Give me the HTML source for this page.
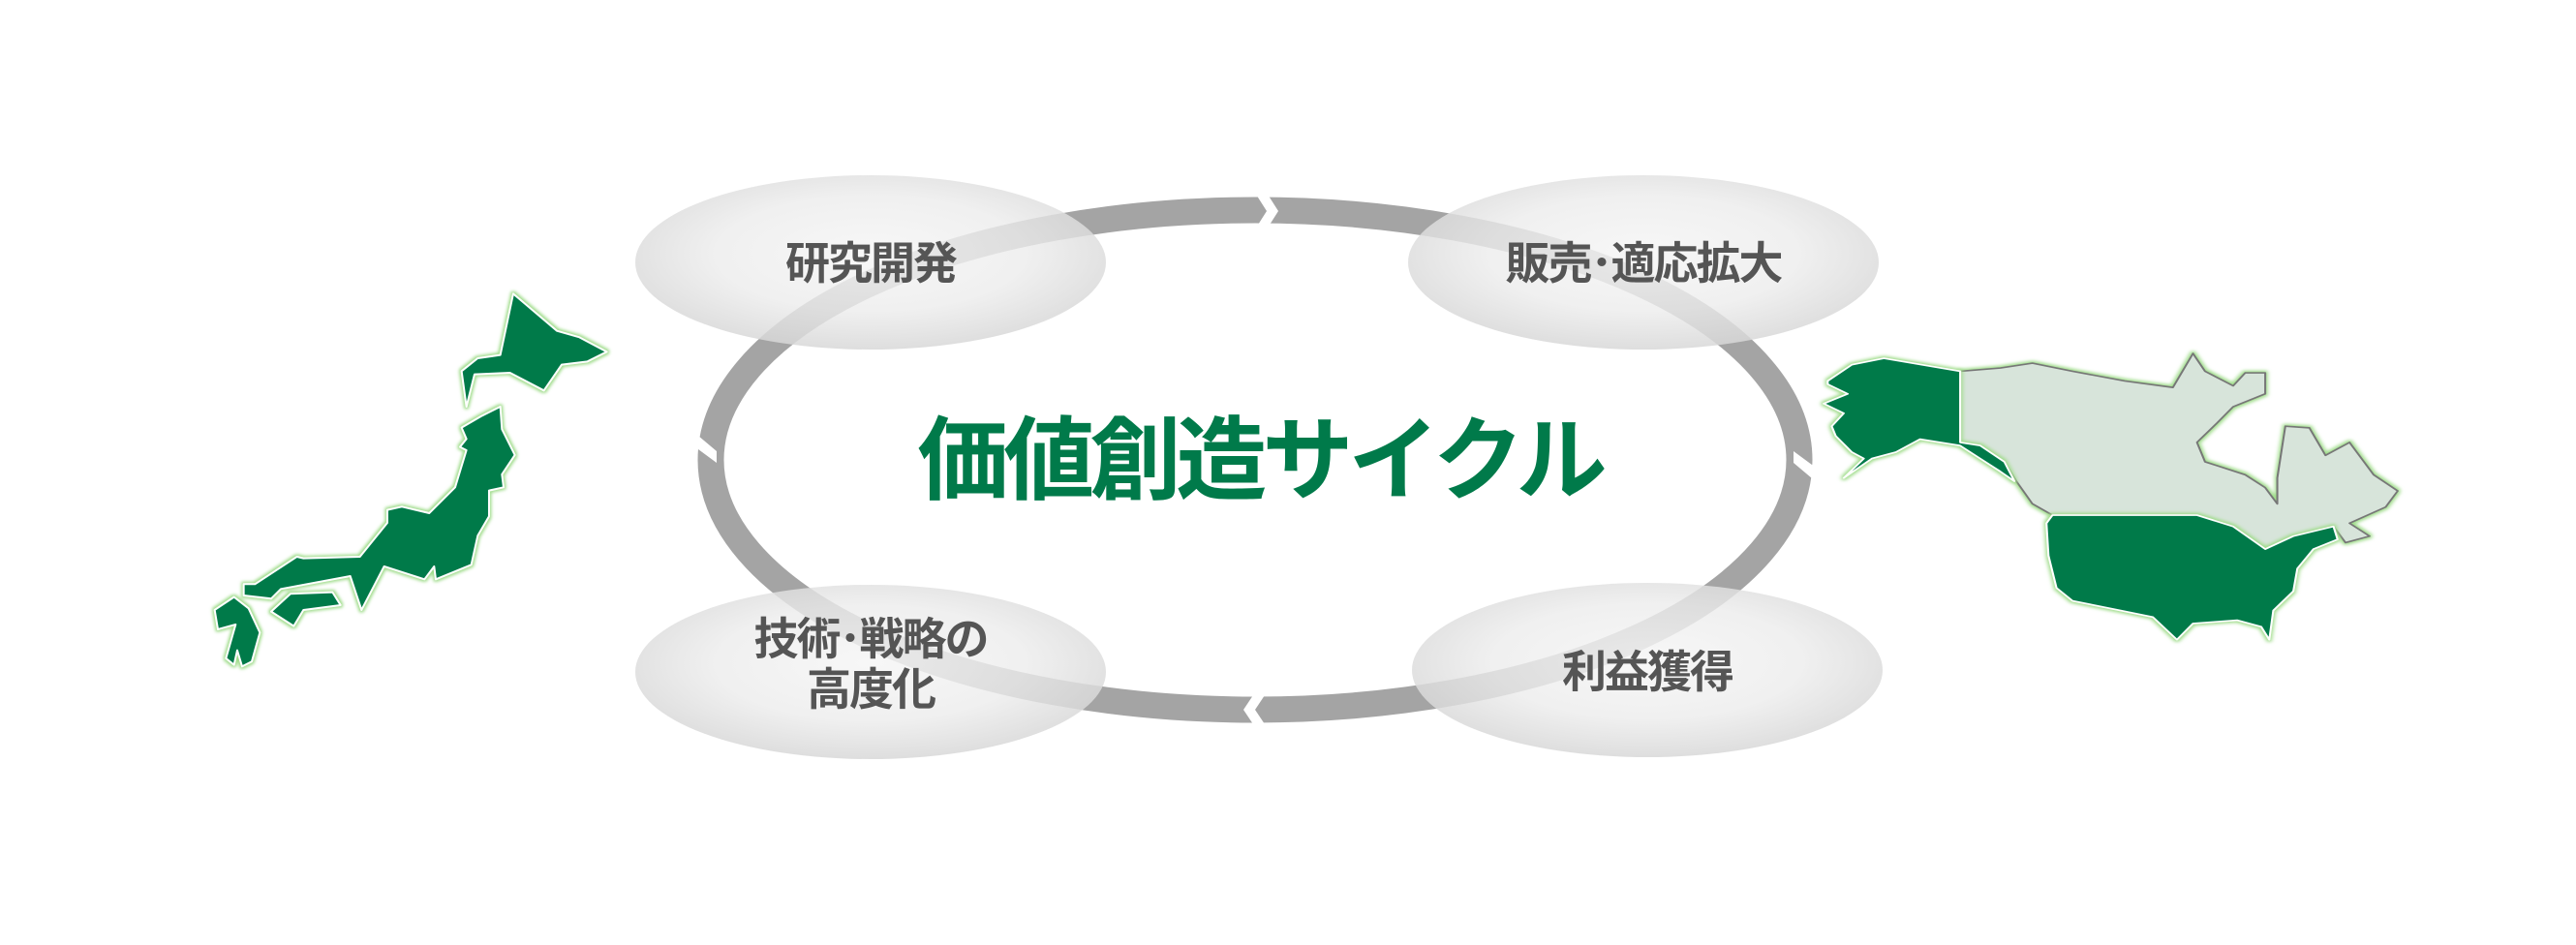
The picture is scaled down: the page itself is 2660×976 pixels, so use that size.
<!DOCTYPE html>
<html><head><meta charset="utf-8">
<style>
html,body{margin:0;padding:0;background:#fff;}
body{width:2660px;height:976px;overflow:hidden;position:relative;}
svg{position:absolute;left:0;top:0;}
</style></head><body>
<svg width="2660" height="976" viewBox="0 0 2660 976" xmlns="http://www.w3.org/2000/svg">
<defs>
<filter id="glow" x="-20%" y="-20%" width="140%" height="140%">
<feMorphology in="SourceAlpha" operator="dilate" radius="4" result="d"/>
<feGaussianBlur in="d" stdDeviation="5" result="b"/>
<feFlood flood-color="#9fdc8a"/>
<feComposite in2="b" operator="in" result="g"/>
<feMerge><feMergeNode in="g"/><feMergeNode in="SourceGraphic"/></feMerge>
</filter>
<radialGradient id="blob" cx="50%" cy="45%" r="55%">
<stop offset="0" stop-color="#f6f6f6" stop-opacity="0.85"/>
<stop offset="0.6" stop-color="#ececec" stop-opacity="0.8"/>
<stop offset="1" stop-color="#d8d8d8" stop-opacity="0.85"/>
</radialGradient>
</defs>

<ellipse cx="1296" cy="475" rx="562" ry="258" fill="none" stroke="#a4a4a4" stroke-width="27"/>
<polygon fill="#fff" points="1294,196 1306,196 1320,218 1306,240 1294,240 1308,218"/>
<polygon fill="#fff" points="1852,466 1852,478 1871,494 1890,478 1890,466 1871,480"/>
<polygon fill="#fff" points="1310,712 1298,712 1284,733 1298,754 1310,754 1296,733"/>
<polygon fill="#fff" points="702,478 702,466 721,450 740,466 740,478 721,464"/>

<ellipse cx="899" cy="271" rx="243" ry="90" fill="url(#blob)"/>
<ellipse cx="1697" cy="271" rx="243" ry="90" fill="url(#blob)"/>
<ellipse cx="899" cy="694" rx="243" ry="90" fill="url(#blob)"/>
<ellipse cx="1701" cy="692" rx="243" ry="90" fill="url(#blob)"/>

<g font-family="'Liberation Sans','Noto Sans CJK JP',sans-serif" font-weight="bold" fill="#555" font-size="46" text-anchor="middle" letter-spacing="-2">
<text x="899" y="288">研究開発</text>
<text x="1697" y="288">販売･適応拡大</text>
<text x="899" y="676">技術･戦略の</text>
<text x="899" y="728">高度化</text>
<text x="1701" y="710">利益獲得</text>
</g>
<text x="1301" y="508" text-anchor="middle" font-family="'Liberation Sans','Noto Sans CJK JP',sans-serif" font-weight="bold" font-size="94" fill="#007a4a" letter-spacing="-5">価値創造サイクル</text>

<g transform="translate(180,270) scale(0.3333)" filter="url(#glow)" fill="#007a4a" stroke="#fff" stroke-width="6" stroke-linejoin="round">
<polygon points="1050,100 1185,215 1255,235 1340,280 1280,310 1200,320 1145,400 1040,345 930,350 905,450 890,340 940,300 1010,290"/>
<polygon points="1010,450 1015,520 1055,600 1015,660 1020,700 975,710 975,790 940,850 920,940 810,985 805,945 775,985 650,945 580,1080 545,975 330,1015 300,1045 215,1035 215,1000 250,1000 380,915 400,920 575,915 660,810 660,770 705,760 790,780 870,700 905,585 885,575 905,550 890,515 950,480"/>
<polygon points="300,1085 360,1030 490,1025 515,1065 400,1080 370,1130"/>
<polygon points="125,1080 185,1040 230,1075 265,1150 240,1240 210,1255 195,1205 185,1250 160,1230 190,1125 135,1140"/>
</g>

<g transform="translate(1850,340) scale(0.4145,0.334)" stroke-linejoin="round">
<polygon filter="url(#glow)" fill="#d7e4da" stroke="#777" stroke-width="5" points="420,130 520,120 600,105 700,130 830,160 950,180 1000,75 1030,130 1100,175 1130,135 1180,135 1180,200 1100,240 1060,290 1010,350 1030,410 1130,450 1180,490 1210,540 1210,460 1230,300 1290,305 1330,390 1390,350 1450,450 1510,500 1480,550 1390,600 1440,640 1380,660 1350,610 1250,640 1180,680 1100,610 1010,575 650,575 600,540 560,470 530,410 480,370 420,350"/>
<g filter="url(#glow)" fill="#007a4a" stroke="#fff" stroke-width="5">
<polygon points="90,160 150,110 230,90 420,130 420,350 470,360 530,410 555,470 520,440 470,400 420,360 320,340 260,380 200,400 130,460 180,400 150,380 110,330 100,300 130,260 80,230 140,200 90,170"/>
<polygon points="650,575 1010,575 1100,610 1180,680 1250,640 1350,610 1360,650 1300,680 1260,740 1250,810 1200,870 1190,960 1170,920 1110,900 1000,910 960,960 900,890 820,870 700,840 660,800 640,700 635,600"/>
</g>
</g>
</svg>
</body></html>
